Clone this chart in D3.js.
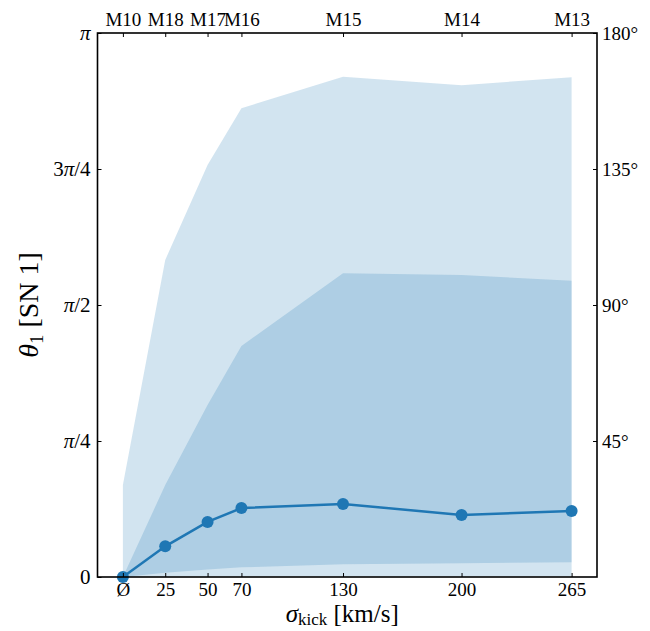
<!DOCTYPE html>
<html>
<head>
<meta charset="utf-8">
<script src="https://cdn.jsdelivr.net/npm/d3@7"></script>
<style>
  body { margin: 0; background: #fff; }
  svg { font-family: "Liberation Serif", "DejaVu Serif", serif; }
</style>
</head>
<body>
<svg id="chart" width="650" height="631"></svg>
<script>
// ---- data ----
const sigmaKick = [0, 25, 50, 70, 130, 200, 265];          // km/s (0 = Ø, no kick)
const bottomLabels = ["Ø", "25", "50", "70", "130", "200", "265"];
const topLabels = ["M10", "M18", "M17", "M16", "M15", "M14", "M13"];
const median = [0.0, 0.177, 0.318, 0.398, 0.422, 0.358, 0.381];
const innerLow = [0.0, 0.025, 0.044, 0.056, 0.073, 0.080, 0.085];
const innerHigh = [0.0, 0.531, 0.993, 1.334, 1.754, 1.744, 1.711];
const outerLow = [0.0, 0.003, 0.003, 0.003, 0.003, 0.003, 0.003];
const outerHigh = [0.531, 1.831, 2.379, 2.707, 2.889, 2.840, 2.886];
const leftTickVals = [0, Math.PI / 4, Math.PI / 2, 3 * Math.PI / 4, Math.PI];
const leftTickLabels = ["0", "π/4", "π/2", "3π/4", "π"];
const rightTickVals = [Math.PI / 4, Math.PI / 2, 3 * Math.PI / 4, Math.PI];
const rightTickLabels = ["45°", "90°", "135°", "180°"];

// ---- layout ----
const L = 97.5, R = 597, T = 33, B = 577;
const color = "#1f77b4";
const svg = d3.select("#chart");

const x = d3.scaleLinear().domain([-15, 280]).range([L, R]);
const y = d3.scaleLinear().domain([0, Math.PI]).range([B, T]);

const rows = sigmaKick.map((s, i) => ({
  s, m: median[i], il: innerLow[i], ih: innerHigh[i], ol: outerLow[i], oh: outerHigh[i]
}));

// bands
const outerArea = d3.area().x(d => x(d.s)).y0(d => y(d.ol)).y1(d => y(d.oh));
const innerArea = d3.area().x(d => x(d.s)).y0(d => y(d.il)).y1(d => y(d.ih));
svg.append("path").datum(rows).attr("d", outerArea)
  .attr("fill", color).attr("fill-opacity", 0.2);
svg.append("path").datum(rows).attr("d", innerArea)
  .attr("fill", color).attr("fill-opacity", 0.2);

// median line + markers
const line = d3.line().x(d => x(d.s)).y(d => y(d.m));
svg.append("path").datum(rows).attr("d", line)
  .attr("fill", "none").attr("stroke", color).attr("stroke-width", 2.5);
svg.append("g").selectAll("circle").data(rows).join("circle")
  .attr("cx", d => x(d.s)).attr("cy", d => y(d.m)).attr("r", 6)
  .attr("fill", color);

// axes
function styleAxis(g, fs) {
  g.select(".domain").remove();
  g.selectAll(".tick line").attr("stroke", "#000").attr("stroke-width", 1);
  g.selectAll(".tick text").attr("font-size", fs).attr("fill", "#000")
    .attr("font-family", "Liberation Serif, DejaVu Serif, serif");
}

const gB = svg.append("g").attr("transform", `translate(0,${B})`)
  .call(d3.axisBottom(x).tickValues(sigmaKick)
    .tickFormat((d, i) => bottomLabels[i]).tickSizeInner(-4).tickSizeOuter(0).tickPadding(6));
styleAxis(gB, "19px");

const gT = svg.append("g").attr("transform", `translate(0,${T})`)
  .call(d3.axisTop(x).tickValues(sigmaKick)
    .tickFormat((d, i) => topLabels[i]).tickSizeInner(-4).tickSizeOuter(0).tickPadding(7));
styleAxis(gT, "19px");

const gL = svg.append("g").attr("transform", `translate(${L},0)`)
  .call(d3.axisLeft(y).tickValues(leftTickVals)
    .tickFormat((d, i) => leftTickLabels[i]).tickSizeInner(-4).tickSizeOuter(0).tickPadding(7));
styleAxis(gL, "21px");
// italic pi
gL.selectAll(".tick text").each(function(d, i) {
  const t = d3.select(this);
  const lbl = leftTickLabels[i];
  t.text(null);
  lbl.split(/(π)/).forEach(part => {
    if (!part) return;
    const ts = t.append("tspan").text(part);
    if (part === "π") ts.attr("font-style", "italic");
  });
});

const gR = svg.append("g").attr("transform", `translate(${R},0)`)
  .call(d3.axisRight(y).tickValues(rightTickVals)
    .tickFormat((d, i) => rightTickLabels[i]).tickSizeInner(-4).tickSizeOuter(0).tickPadding(5));
styleAxis(gR, "19px");

// frame
svg.append("rect").attr("x", L).attr("y", T).attr("width", R - L).attr("height", B - T)
  .attr("fill", "none").attr("stroke", "#000").attr("stroke-width", 1.6);

// x label
const xl = svg.append("text").attr("x", (L + R) / 2 - 5).attr("y", 622)
  .attr("text-anchor", "middle").attr("font-size", "25px").attr("fill", "#000");
xl.append("tspan").attr("font-style", "italic").text("σ");
xl.append("tspan").attr("font-size", "17px").attr("dy", "3").text("kick");
xl.append("tspan").attr("dy", "-3").text(" [km/s]");

// y label
const yl = svg.append("text")
  .attr("transform", `translate(38,${(T + B) / 2}) rotate(-90)`)
  .attr("text-anchor", "middle").attr("font-size", "28px").attr("fill", "#000");
yl.append("tspan").attr("font-style", "italic").text("θ");
yl.append("tspan").attr("font-size", "19px").attr("dy", "5").text("1");
yl.append("tspan").attr("dy", "-5").text(" [SN 1]");
</script>
</body>
</html>
